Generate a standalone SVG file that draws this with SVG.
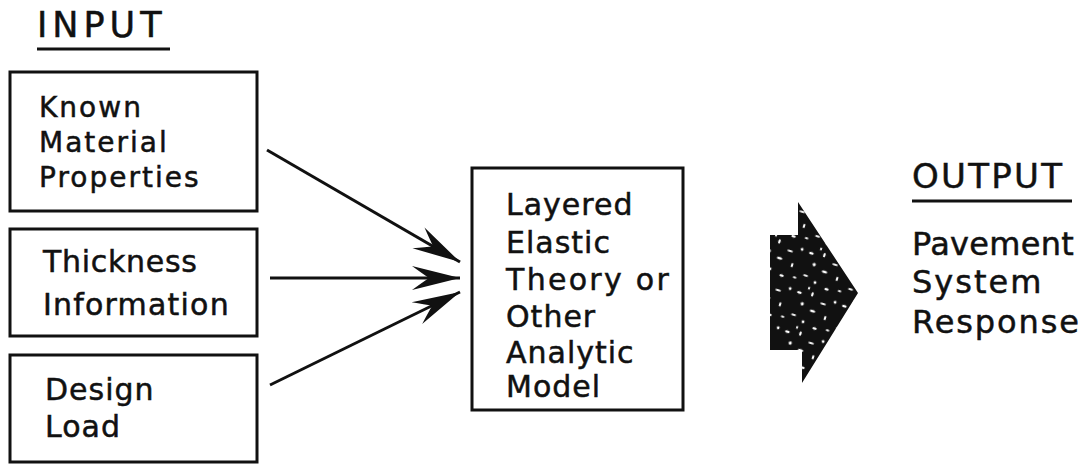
<svg xmlns="http://www.w3.org/2000/svg" width="1089" height="466" viewBox="0 0 1089 466">
  <style>
    .box { fill: #fff; stroke: #111; stroke-width: 3; }
    .lbl { font-family: "DejaVu Sans", "Liberation Sans", sans-serif; fill: #111; stroke: #111; stroke-width: 0.5; }
    .t28 { font-size: 28px; letter-spacing: 2px; }
    .t30 { font-size: 30px; letter-spacing: 1px; }
    .t32 { font-size: 32px; letter-spacing: 1px; }
    .head { font-size: 35px; letter-spacing: 5px; }
    .head2 { font-size: 34px; letter-spacing: 2.3px; }
    .rule { stroke: #111; stroke-width: 3; }
    .wire { fill: none; stroke: #111; stroke-width: 3; marker-end: url(#barb); }
  </style>
  <defs>
    <marker id="barb" markerUnits="userSpaceOnUse" viewBox="-50 -14 52 28" refX="0" refY="0" markerWidth="52" markerHeight="28" orient="auto">
      <path d="M0,0 L-48,-12 Q-37,-4 -31,0 Q-37,4 -48,12 Z" fill="#111"/>
    </marker>
    <!-- speckled black fill for the output arrow -->
    <pattern id="speckle" patternUnits="userSpaceOnUse" width="47" height="41" patternTransform="rotate(17)">
      <rect width="47" height="41" fill="#111"/>
      <ellipse cx="4" cy="5" rx="2.4" ry="1.2" fill="#fff"/>
      <ellipse cx="17" cy="3" rx="1.2" ry="2.2" fill="#fff"/>
      <ellipse cx="30" cy="9" rx="3" ry="1.1" fill="#fff"/>
      <ellipse cx="41" cy="4" rx="1.4" ry="1.4" fill="#fff"/>
      <ellipse cx="10" cy="15" rx="1.6" ry="1.8" fill="#fff"/>
      <ellipse cx="22" cy="19" rx="2.8" ry="1.3" fill="#fff"/>
      <ellipse cx="36" cy="22" rx="1.1" ry="2.2" fill="#fff"/>
      <ellipse cx="5" cy="28" rx="2.6" ry="1.1" fill="#fff"/>
      <ellipse cx="16" cy="32" rx="1.4" ry="1.4" fill="#fff"/>
      <ellipse cx="29" cy="35" rx="2.2" ry="1.2" fill="#fff"/>
      <ellipse cx="42" cy="33" rx="1.8" ry="1" fill="#fff"/>
      <ellipse cx="12" cy="39" rx="1" ry="1.6" fill="#fff"/>
    </pattern>
  </defs>

  <!-- INPUT heading -->
  <g id="input-heading">
    <text class="lbl head" x="37" y="37">INPUT</text>
    <line class="rule" x1="37" y1="49" x2="170" y2="49"/>
  </g>

  <g id="material">
    <rect class="box" x="10" y="72" width="247" height="139"/>
    <text class="lbl t28" x="39" y="117">Known</text>
    <text class="lbl t28" x="39" y="152">Material</text>
    <text class="lbl t28" x="39" y="187">Properties</text>
  </g>

  <g id="thickness">
    <rect class="box" x="10" y="229" width="247" height="107"/>
    <text class="lbl t30" x="43" y="272" style="letter-spacing:0.7px">Thickness</text>
    <text class="lbl t30" x="43" y="315" style="letter-spacing:1.2px">Information</text>
  </g>

  <g id="load">
    <rect class="box" x="10" y="355" width="247" height="107"/>
    <text class="lbl t30" x="45" y="400">Design</text>
    <text class="lbl t30" x="45" y="437">Load</text>
  </g>

  <g id="model">
    <rect class="box" x="472" y="168" width="211" height="242"/>
    <text class="lbl t30" x="506" y="215">Layered</text>
    <text class="lbl t30" x="506" y="253">Elastic</text>
    <text class="lbl t30" x="506" y="290" style="letter-spacing:2.3px">Theory or</text>
    <text class="lbl t30" x="506" y="327">Other</text>
    <text class="lbl t30" x="506" y="363">Analytic</text>
    <text class="lbl t30" x="506" y="397">Model</text>
  </g>

  <g id="connectors">
    <path class="wire" d="M267,150 L460,262"/>
    <path class="wire" d="M270,278 L460,278"/>
    <path class="wire" d="M270,385 L460,292"/>
  </g>

  <g id="output-arrow">
    <polygon points="770,235 798,235 798,202 858,293 802,383 802,350 770,350" fill="url(#speckle)"/>
  </g>

  <g id="output">
    <text class="lbl head2" x="912" y="188">OUTPUT</text>
    <line class="rule" x1="912" y1="201" x2="1072" y2="201"/>
    <text class="lbl t32" x="912" y="255" style="letter-spacing:0.3px">Pavement</text>
    <text class="lbl t32" x="912" y="293" style="letter-spacing:2px">System</text>
    <text class="lbl t32" x="912" y="333" style="letter-spacing:1.9px">Response</text>
  </g>
</svg>
